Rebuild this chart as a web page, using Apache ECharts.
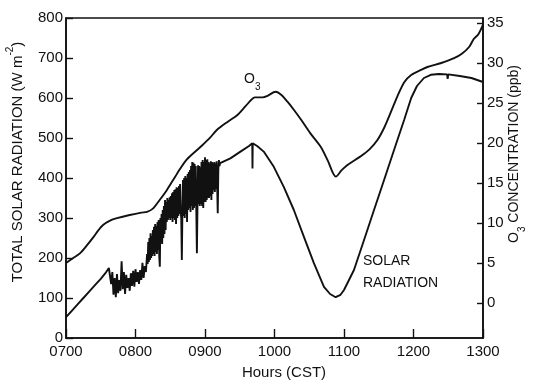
<!DOCTYPE html>
<html>
<head>
<meta charset="utf-8">
<script src="https://cdn.jsdelivr.net/npm/echarts@6/dist/echarts.min.js"></script>
<style>
  html, body { margin: 0; padding: 0; background: #fff; }
  #chart { width: 533px; height: 383px; }
</style>
</head>
<body>
<div id="chart"></div>
<script>
// minutes after 0700 CST
const o3Time = [0, 6, 12, 18, 24, 28, 32, 38, 44, 55, 65, 70, 75, 81, 87, 96, 104, 116, 124, 130, 140, 148, 155, 160, 163, 170, 174, 181, 186, 191, 197, 203, 211, 220, 226, 233, 238, 243, 254, 262, 269, 275, 280, 286, 292, 298, 306, 312, 324, 335, 342, 348, 352, 356, 360]
const o3Ppb = [5.0, 5.6, 6.2, 7.2, 8.3, 9.1, 9.75, 10.3, 10.6, 11.0, 11.3, 11.4, 11.8, 12.9, 14.1, 16.2, 17.9, 19.5, 20.6, 21.6, 22.7, 23.5, 24.6, 25.4, 25.7, 25.7, 25.9, 26.4, 26.0, 25.2, 24.1, 22.9, 21.2, 19.5, 17.8, 15.8, 16.6, 17.25, 18.3, 19.2, 20.4, 22.0, 23.7, 25.8, 27.6, 28.5, 29.1, 29.5, 30.0, 30.6, 31.2, 32.0, 33.0, 33.6, 34.8]

// smooth rise, then the noisy stretch (read at 1 and 0.5 minute steps), then the smooth afternoon
const solarTime = [
  0, 5, 10, 15, 20, 25, 30, 34, 37, 38,
  39, 40, 41, 42, 43, 44, 45, 46, 47, 48, 49, 50, 51, 52, 53, 54, 55, 56, 57, 58, 59, 60,
  61, 62, 63, 64, 65, 66, 67, 68, 69,
  70, 70.5, 71, 71.5, 72, 72.5, 73, 73.5, 74, 74.5, 75, 75.5, 76, 76.5, 77, 77.5, 78, 78.5, 79, 79.5,
  80, 80.5, 81, 81.5, 82, 82.5, 83, 83.5, 84, 84.5, 85, 85.5, 86, 86.5, 87, 87.5, 88, 88.5, 89, 89.5,
  90, 90.5, 91, 91.5, 92, 92.5, 93, 93.5, 94, 94.5, 95, 95.5, 96, 96.5, 97, 97.5, 98, 98.5, 99, 99.5,
  100, 100.5, 101, 101.5, 102, 102.5, 103, 103.5, 104, 104.5, 105, 105.5, 106, 106.5, 107, 107.5, 108, 108.5, 109, 109.5,
  110, 110.5, 111, 111.5, 112, 112.5, 113, 113.5, 114, 114.5, 115, 115.5, 116, 116.5, 117, 117.5, 118, 118.5, 119, 119.5,
  120, 120.5, 121, 121.5, 122, 122.5, 123, 123.5, 124, 124.5, 125, 125.5, 126, 126.5, 127, 127.5, 128, 128.5, 129, 129.5,
  130, 130.5, 131, 131.5, 132, 132.5, 133,
  141.9, 150.6, 158, 160.8, 161, 161.2, 165, 170.7, 179.4, 188, 196.7, 205.4, 214, 222.7, 228, 232.8, 237, 240,
  248.6, 257.3, 265.9, 274.6, 283.2, 291.9, 298, 303, 309, 315, 322, 329, 329.5, 330, 340, 350, 360
]
const solarWm2 = [
  52, 68, 84, 100, 116, 132, 148, 162, 175, 180,
  135, 165, 108, 150, 102, 160, 112, 145, 118, 192, 122, 165, 110, 158, 125, 150, 118, 162, 130, 168, 128, 172,
  140, 165, 135, 170, 145, 188, 150, 180, 165,
  210, 185, 240, 190, 250, 195, 262, 200, 255, 205, 270, 210, 278, 205, 285, 215, 280, 210, 290, 220,
  295, 205, 178, 300, 240, 310, 235, 320, 250, 330, 260, 345, 270, 340, 290, 350, 295, 345, 300, 352,
  295, 355, 300, 362, 290, 365, 300, 370, 295, 372, 285, 377, 300, 375, 305, 380, 310, 385, 315, 300,
  195, 320, 395, 305, 400, 300, 405, 310, 400, 290, 410, 320, 415, 325, 420, 315, 430, 330, 440, 320,
  438, 325, 435, 330, 430, 320, 212, 330, 432, 335, 430, 330, 427, 335, 440, 330, 445, 325, 440, 340,
  452, 340, 445, 345, 447, 350, 440, 350, 437, 355, 442, 345, 440, 360, 437, 370, 440, 365, 437, 372,
  442, 380, 312, 420, 445, 430, 437,
  449, 466, 480, 487, 424, 487, 480, 466, 428, 378, 320, 253, 187, 128, 110, 102, 108, 120,
  170, 245, 320, 395, 470, 545, 600, 630, 650, 658, 660, 659, 648, 659, 655, 650, 640
]

const rightTicks = [0, 5, 10, 15, 20, 25, 30, 35]

const font = "'Liberation Sans', Arial, sans-serif"
const ink = '#111'

const chart = echarts.init(document.getElementById('chart'))

chart.setOption({
  animation: false,
  backgroundColor: '#fff',
  textStyle: { fontFamily: font, color: ink },
  grid: {
    show: true,
    left: 66,
    right: 50,
    top: 18,
    bottom: 45,
    borderColor: ink,
    borderWidth: 1.6,
    backgroundColor: 'transparent'
  },
  xAxis: {
    type: 'value',
    min: 0,
    max: 360,
    interval: 60,
    axisLine: { lineStyle: { color: ink, width: 1.6 } },
    axisTick: { inside: true, length: 9, lineStyle: { color: ink, width: 1.4 } },
    axisLabel: {
      fontSize: 15,
      color: ink,
      margin: 6,
      formatter: v => {
        const h = 7 + v / 60
        return (h < 10 ? '0' : '') + h + '00'
      }
    },
    splitLine: { show: false }
  },
  yAxis: [
    {
      type: 'value',
      min: 0,
      max: 800,
      interval: 100,
      position: 'left',
      axisLine: { show: true, lineStyle: { color: ink, width: 1.6 } },
      axisTick: { show: true, inside: true, length: 7, lineStyle: { color: ink, width: 1.4 } },
      axisLabel: { fontSize: 15, color: ink, margin: 3 },
      splitLine: { show: false }
    },
    {
      type: 'value',
      min: -4.375,
      max: 35.625,
      position: 'right',
      axisLine: { show: true, lineStyle: { color: ink, width: 1.6 } },
      axisTick: { show: true, inside: true, length: 6, customValues: rightTicks, lineStyle: { color: ink, width: 1.4 } },
      axisLabel: { fontSize: 15, color: ink, margin: 4, customValues: rightTicks },
      splitLine: { show: false }
    }
  ],
  graphic: [
    {
      type: 'text',
      x: 15,
      y: 162,
      rotation: Math.PI / 2,
      style: {
        text: '{a|TOTAL SOLAR RADIATION (W m}{s|-2}{a|)}',
        align: 'center',
        verticalAlign: 'middle',
        rich: {
          a: { fontSize: 15, fontFamily: font, fill: ink, lineHeight: 20, verticalAlign: 'bottom' },
          s: { fontSize: 10, fontFamily: font, fill: ink, lineHeight: 20, verticalAlign: 'top' }
        }
      }
    },
    {
      type: 'text',
      x: 517,
      y: 154,
      rotation: Math.PI / 2,
      style: {
        text: '{a|O}{b|3}{a| CONCENTRATION (ppb)}',
        align: 'center',
        verticalAlign: 'middle',
        rich: {
          a: { fontSize: 14, fontFamily: font, fill: ink, lineHeight: 20, verticalAlign: 'top' },
          b: { fontSize: 10, fontFamily: font, fill: ink, lineHeight: 20, verticalAlign: 'bottom' }
        }
      }
    },
    {
      type: 'text',
      x: 244,
      y: 82,
      style: {
        text: '{a|O}{b|3}',
        verticalAlign: 'middle',
        rich: {
          a: { fontSize: 14, fontFamily: font, fill: ink, lineHeight: 20, verticalAlign: 'top' },
          b: { fontSize: 10, fontFamily: font, fill: ink, lineHeight: 20, verticalAlign: 'bottom' }
        }
      }
    },
    {
      type: 'text',
      x: 363,
      y: 254,
      style: { text: 'SOLAR', fontSize: 14, fontFamily: font, fill: ink }
    },
    {
      type: 'text',
      x: 363,
      y: 276,
      style: { text: 'RADIATION', fontSize: 14, fontFamily: font, fill: ink }
    },
    {
      type: 'text',
      x: 284,
      y: 373,
      style: { text: 'Hours (CST)', fontSize: 15, fontFamily: font, fill: ink, align: 'center', verticalAlign: 'middle' }
    }
  ],
  series: [
    {
      name: 'Solar radiation',
      type: 'line',
      yAxisIndex: 0,
      showSymbol: false,
      lineStyle: { color: ink, width: 1.9 },
      data: solarTime.map((t, i) => [t, solarWm2[i]])
    },
    {
      name: 'O3',
      type: 'line',
      yAxisIndex: 1,
      showSymbol: false,
      smooth: 0.3,
      lineStyle: { color: ink, width: 1.9 },
      data: o3Time.map((t, i) => [t, o3Ppb[i]])
    }
  ]
})
</script>
</body>
</html>
